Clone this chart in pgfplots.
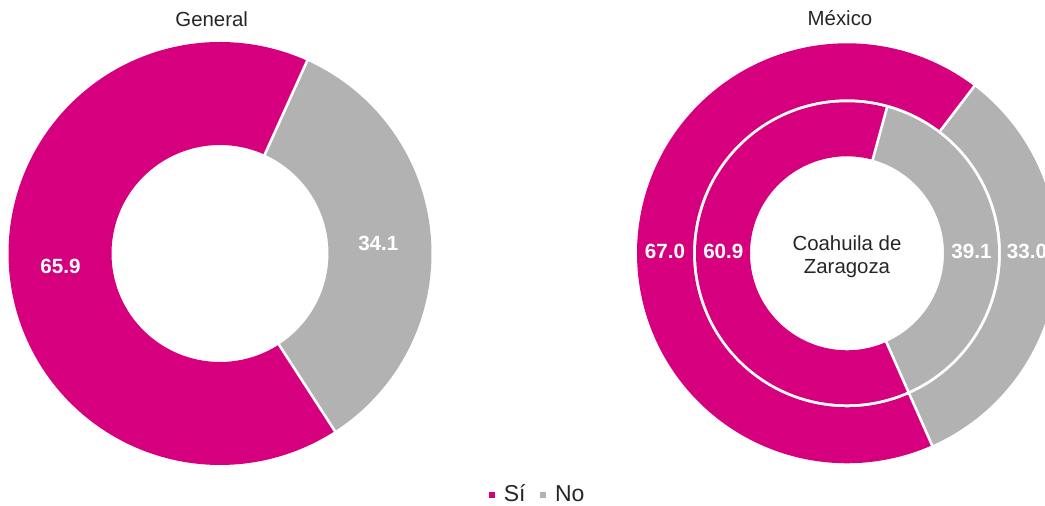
\documentclass[border=0pt]{standalone}
\usepackage{pgfplots}
\pgfplotsset{compat=1.18}
\usepackage{fontspec}
\setmainfont{Liberation Sans}
\definecolor{si}{RGB}{214,0,127}
\definecolor{no}{RGB}{178,178,178}
\definecolor{txt}{RGB}{38,38,38}

% data (percent)
\def\GenSi{65.9}\def\GenNo{34.1}
\def\MexSi{67.0}\def\MexNo{33.0}
\def\CoaSi{60.9}\def\CoaNo{39.1}

\begin{document}
\begin{tikzpicture}
\begin{axis}[x=0.5pt,y=0.5pt,xmin=0,xmax=1045,ymin=0,ymax=506,
  hide axis, clip=false,
  legend columns=2,
  legend style={at={(axis cs:482.5,11)},anchor=west,draw=none,fill=none,
    font=\fontsize{11.5}{13}\selectfont\color{txt},
    nodes={inner sep=0pt},
    /tikz/every odd column/.append style={column sep=4.6pt},
    /tikz/every even column/.append style={column sep=7.2pt}},
  legend image code/.code={\fill[#1] (-1.25pt,-1.25pt) rectangle (1.25pt,1.25pt);}
]
\coordinate (SW) at (axis cs:0,0);
\coordinate (NE) at (axis cs:1045,506);
% ---- General
\pgfmathsetmacro\GA{-57.1}
\pgfmathsetmacro\GB{\GA+3.6*\GenNo}
\pgfmathsetmacro\GC{\GA+3.6*(\GenNo+\GenSi)}
\addplot[no, line width=51.5pt, domain=\GA:\GB, samples=90, variable=\t, forget plot] ({220+160*cos(\t)},{252.5+160*sin(\t)});
\addplot[si, line width=51.5pt, domain=\GB:\GC, samples=160, variable=\t, forget plot] ({220+160*cos(\t)},{252.5+160*sin(\t)});
\addplot[white, line width=1.3pt, domain=107:214, samples=2, variable=\r, forget plot] ({220+\r*cos(\GA)},{252.5+\r*sin(\GA)});
\addplot[white, line width=1.3pt, domain=107:214, samples=2, variable=\r, forget plot] ({220+\r*cos(\GB)},{252.5+\r*sin(\GB)});
% ---- México (outer) and Coahuila (inner)
\pgfmathsetmacro\RA{-66.1}
\pgfmathsetmacro\RB{\RA+3.6*\MexNo}
\pgfmathsetmacro\RC{\RA+3.6*(\MexNo+\MexSi)}
\pgfmathsetmacro\IB{\RA+3.6*\CoaNo}
\pgfmathsetmacro\IC{\RA+3.6*(\CoaNo+\CoaSi)}
\addplot[no, line width=28pt, domain=\RA:\RB, samples=90, variable=\t, forget plot] ({847+182*cos(\t)},{252.7+182*sin(\t)});
\addplot[si, line width=28pt, domain=\RB:\RC, samples=160, variable=\t, forget plot] ({847+182*cos(\t)},{252.7+182*sin(\t)});
\addplot[no, line width=27pt, domain=\RA:\IB, samples=90, variable=\t, forget plot] ({847+124*cos(\t)},{252.7+124*sin(\t)});
\addplot[si, line width=27pt, domain=\IB:\IC, samples=160, variable=\t, forget plot] ({847+124*cos(\t)},{252.7+124*sin(\t)});
\addplot[white, line width=1.3pt, domain=95:212, samples=2, variable=\r, forget plot] ({847+\r*cos(\RA)},{252.7+\r*sin(\RA)});
\addplot[white, line width=1.3pt, domain=152:212, samples=2, variable=\r, forget plot] ({847+\r*cos(\RB)},{252.7+\r*sin(\RB)});
\addplot[white, line width=1.3pt, domain=95:153, samples=2, variable=\r, forget plot] ({847+\r*cos(\IB)},{252.7+\r*sin(\IB)});
% ---- legend
\addlegendimage{si}\addlegendentry{Sí}
\addlegendimage{no}\addlegendentry{No}
% ---- labels
\begin{scope}[every node/.style={font=\fontsize{10.3}{12}\selectfont\bfseries, text=white}]
\node at (axis cs:60.5,239.3) {65.9};
\node at (axis cs:378.3,262.7) {34.1};
\node at (axis cs:665,254.3) {67.0};
\node at (axis cs:723.3,254.3) {60.9};
\node at (axis cs:971.5,254.3) {39.1};
\node at (axis cs:1027,254.3) {33.0};
\end{scope}
\node[anchor=base, text=txt, font=\fontsize{10.2}{12}\selectfont] at (axis cs:211.7,479) {General};
\node[anchor=base, text=txt, font=\fontsize{10.2}{12}\selectfont] at (axis cs:840,480) {México};
\node[align=center, text=txt, font=\fontsize{10.2}{11.65}\selectfont] at (axis cs:847,249.3) {Coahuila de\\Zaragoza};
\end{axis}
\pgfresetboundingbox
\useasboundingbox (SW) rectangle (NE);
\end{tikzpicture}
\end{document}
